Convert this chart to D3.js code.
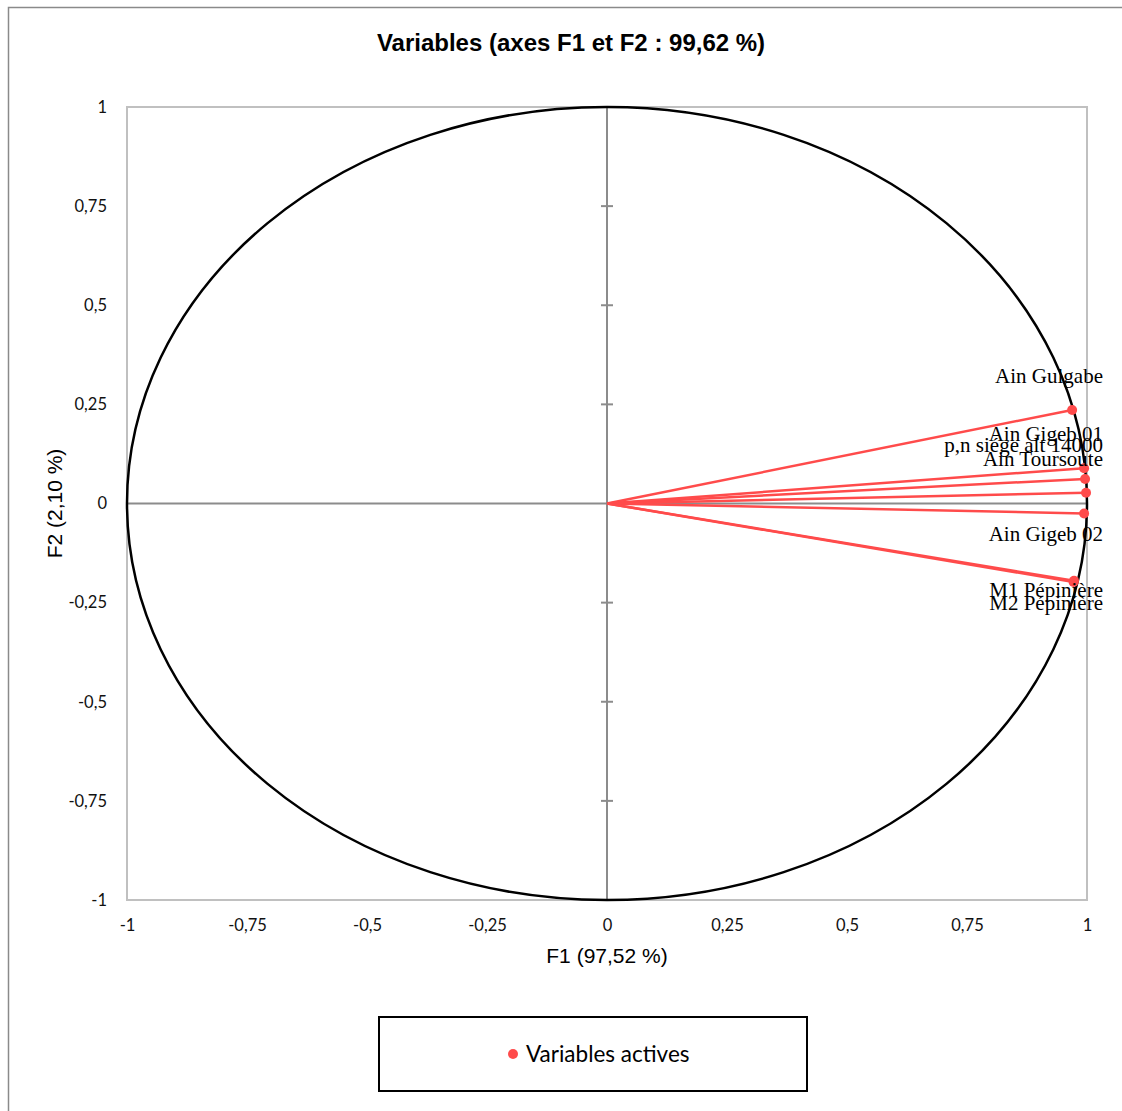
<!DOCTYPE html>
<html>
<head>
<meta charset="utf-8">
<script src="https://cdn.jsdelivr.net/npm/d3@7"></script>
<style>
  body { margin: 0; background: #fff; }
  svg { display: block; }
</style>
</head>
<body>
<div id="chart"></div>
<script>
// variables actives, coordonnées sur F1 / F2
const names = ["Ain Gulgabe", "Ain Gigeb 01", "p,n siége alt 14000", "Ain Toursoute", "Ain Gigeb 02", "M1 Pépinière", "M2 Pépinière"];
const f1 = [0.969, 0.994, 0.996, 0.998, 0.994, 0.973, 0.972];
const f2 = [0.236, 0.089, 0.062, 0.027, -0.025, -0.195, -0.198];
const ticks = [-1, -0.75, -0.5, -0.25, 0, 0.25, 0.5, 0.75, 1];

// label placement (offset of baseline from point)
const labelDy = { "M1 Pépinière": 16 };

const W = 1122, H = 1111;
const red = "#ff4b4b";
const fmt = (d) => String(d).replace(".", ",");

const svg = d3.select("#chart").append("svg")
  .attr("width", W)
  .attr("height", H);

// cadre extérieur
svg.append("rect")
  .attr("x", 8.5).attr("y", 7.5)
  .attr("width", 1300).attr("height", 1300)
  .attr("fill", "none")
  .attr("stroke", "#8a8a8a")
  .attr("stroke-width", 1.5);

const x = d3.scaleLinear().domain([-1, 1]).range([127, 1087]);
const y = d3.scaleLinear().domain([-1, 1]).range([900, 107]);

// zone de tracé
svg.append("rect")
  .attr("x", x(-1)).attr("y", y(1))
  .attr("width", x(1) - x(-1)).attr("height", y(-1) - y(1))
  .attr("fill", "none")
  .attr("stroke", "#c0c0c0")
  .attr("stroke-width", 2);

// axes
const yAxis = svg.append("g")
  .attr("transform", `translate(${x(-1) - 17},0)`)
  .call(d3.axisLeft(y).tickValues(ticks).tickSize(0).tickFormat(fmt));
const xAxis = svg.append("g")
  .attr("transform", `translate(0,${y(-1) + 16})`)
  .call(d3.axisBottom(x).tickValues(ticks).tickSize(0).tickFormat(fmt));
[yAxis, xAxis].forEach((g) => {
  g.select(".domain").remove();
  g.selectAll("text")
    .style("font-family", "Lato, 'Open Sans', sans-serif")
    .style("font-size", "16.5px")
    .attr("fill", "#111");
});

// lignes des axes au centre
svg.append("line")
  .attr("x1", x(-1)).attr("x2", x(1))
  .attr("y1", y(0)).attr("y2", y(0))
  .attr("stroke", "#8c8c8c").attr("stroke-width", 2);
svg.append("line")
  .attr("x1", x(0)).attr("x2", x(0))
  .attr("y1", y(1)).attr("y2", y(-1))
  .attr("stroke", "#8c8c8c").attr("stroke-width", 2);
svg.selectAll(".ytick")
  .data(ticks.filter((d) => Math.abs(d) < 1 && d !== 0))
  .enter().append("line")
  .attr("x1", x(0) - 6).attr("x2", x(0) + 6)
  .attr("y1", (d) => y(d)).attr("y2", (d) => y(d))
  .attr("stroke", "#8c8c8c").attr("stroke-width", 2);

// cercle des corrélations
svg.append("ellipse")
  .attr("cx", x(0)).attr("cy", y(0))
  .attr("rx", x(1) - x(0)).attr("ry", y(-1) - y(0))
  .attr("fill", "none")
  .attr("stroke", "#000")
  .attr("stroke-width", 2.5);

const data = names.map((n, i) => ({ name: n, f1: f1[i], f2: f2[i] }));

svg.selectAll(".vec").data(data).enter().append("line")
  .attr("x1", x(0)).attr("y1", y(0))
  .attr("x2", (d) => x(d.f1)).attr("y2", (d) => y(d.f2))
  .attr("stroke", red).attr("stroke-width", 2.5);

svg.selectAll(".pt").data(data).enter().append("circle")
  .attr("cx", (d) => x(d.f1)).attr("cy", (d) => y(d.f2))
  .attr("r", 5).attr("fill", red);

svg.selectAll(".lbl").data(data).enter().append("text")
  .attr("x", x(1) + 16)
  .attr("y", (d) => y(d.f2) + (labelDy[d.name] !== undefined ? labelDy[d.name] : (d.f2 > 0 ? -27 : 28)))
  .attr("text-anchor", "end")
  .style("font-family", "'Liberation Serif', 'Times New Roman', serif")
  .style("font-size", "21px")
  .attr("fill", "#000")
  .text((d) => d.name);

// titres
svg.append("text")
  .attr("x", 571).attr("y", 51)
  .attr("text-anchor", "middle")
  .style("font-family", "'Liberation Sans', Arial, sans-serif")
  .style("font-size", "24px")
  .style("font-weight", "bold")
  .text("Variables (axes F1 et F2 : 99,62 %)");

svg.append("text")
  .attr("x", x(0)).attr("y", 963)
  .attr("text-anchor", "middle")
  .style("font-family", "'Liberation Sans', Arial, sans-serif")
  .style("font-size", "21px")
  .text("F1 (97,52 %)");

svg.append("text")
  .attr("transform", `translate(62,${y(0)}) rotate(-90)`)
  .attr("text-anchor", "middle")
  .style("font-family", "'Liberation Sans', Arial, sans-serif")
  .style("font-size", "21px")
  .text("F2 (2,10 %)");

// légende
const leg = svg.append("g");
leg.append("rect")
  .attr("x", 379).attr("y", 1017)
  .attr("width", 428).attr("height", 74)
  .attr("fill", "#fff")
  .attr("stroke", "#000")
  .attr("stroke-width", 2);
leg.append("circle")
  .attr("cx", 513).attr("cy", 1054).attr("r", 5).attr("fill", red);
leg.append("text")
  .attr("x", 526).attr("y", 1062)
  .style("font-family", "Lato, 'Open Sans', sans-serif")
  .style("font-size", "22.5px")
  .text("Variables actives");
</script>
</body>
</html>
